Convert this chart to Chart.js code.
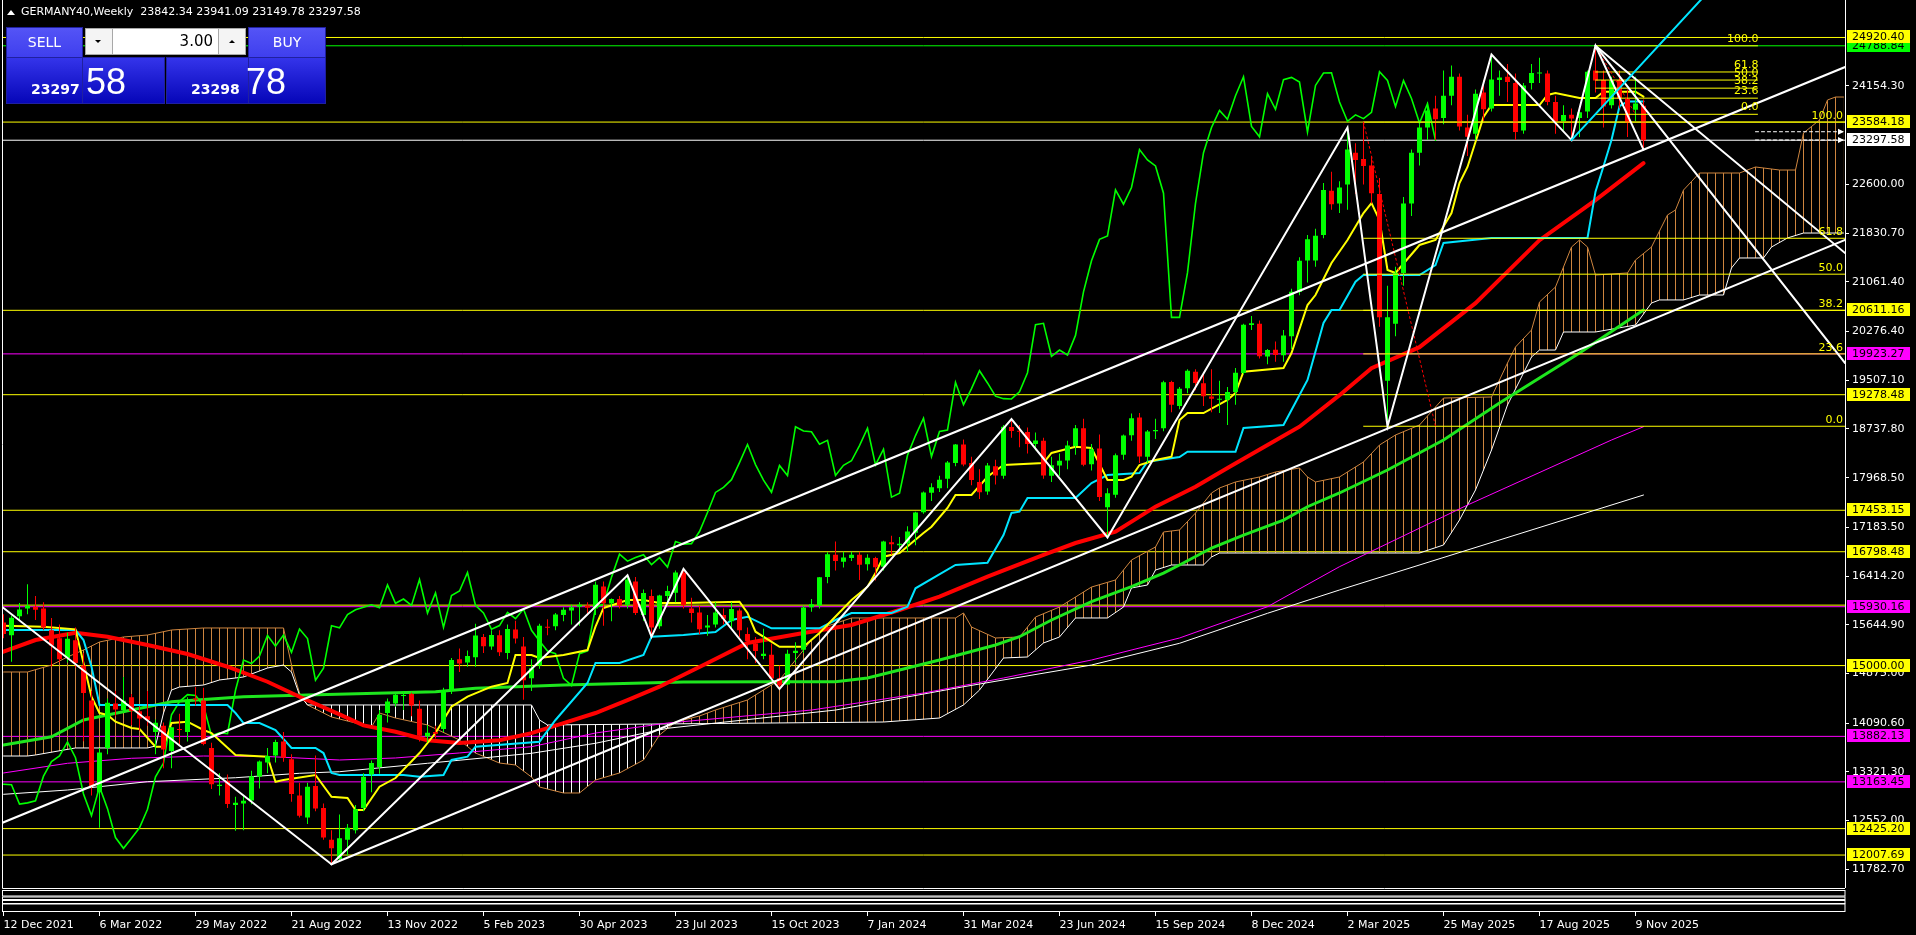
<!DOCTYPE html>
<html><head><meta charset="utf-8">
<script src="https://cdn.jsdelivr.net/npm/chart.js@4.4.1/dist/chart.umd.min.js"></script>
<style>html,body{margin:0;padding:0;background:#000;overflow:hidden}canvas{display:block}</style>
</head><body>
<canvas id="c" width="1916" height="935" style="width:1916px;height:935px"></canvas>
<script>
// ===== DATA (weekly GERMANY40, bar 0 = week of 12 Dec 2021) =====
const xTickBars = [0,12,24,36,48,60,72,84,96,108,120,132,144,156,168,180,192,204];
const xTickLabels = ["12 Dec 2021","6 Mar 2022","29 May 2022","21 Aug 2022","13 Nov 2022","5 Feb 2023","30 Apr 2023","23 Jul 2023","15 Oct 2023","7 Jan 2024","31 Mar 2024","23 Jun 2024","15 Sep 2024","8 Dec 2024","2 Mar 2025","25 May 2025","17 Aug 2025","9 Nov 2025"];
const yTickValues = [24154.30,22600.00,21830.70,21061.40,20276.40,19507.10,18737.80,17968.50,17183.50,16414.20,15644.90,14875.00,14090.60,13321.30,12552.00,11782.70];

const openP = [15680,15480,15780,15900,15930,15900,15560,15430,15120,15400,
15000,14450,13000,13700,14400,14300,14500,14280,14200,13950,
14050,13650,14000,13950,14480,14450,13700,13100,13180,12800,
12820,12870,13250,13470,13580,13800,13520,12950,12600,13100,
12750,12250,11940,12250,12400,12750,13280,13400,14250,14400,
14520,14550,14320,13880,13950,14000,14620,15100,15050,15130,
15450,15300,15480,15200,15570,15300,14800,15000,15600,15620,
15800,15870,15930,15950,15900,16250,15980,16050,15960,16330,
15800,16100,15620,16100,16150,16470,15900,15840,15600,15650,
15800,15700,15870,15500,15350,15150,15170,14800,14700,15200,
15250,15920,15950,16400,16750,16640,16700,16750,16600,16700,
16560,16950,16900,16930,17100,17420,17730,17800,17950,18200,
18490,18200,17900,17750,18150,18000,18770,18700,18690,18500,
18550,18000,18160,18240,18470,18750,18180,18430,17500,17700,
18330,18640,18920,18300,18700,18750,19480,19100,19380,19640,
19460,19250,19200,19200,19320,19620,20380,20400,19880,19990,
19900,20200,20900,21400,21400,21800,22500,22300,22600,23100,
23000,22900,22450,19500,20400,21200,22300,23100,23500,23800,
23650,24000,24300,23500,23400,24050,23800,24250,24300,24200,
23450,24200,24350,24350,23900,23600,23700,23650,23750,24400,
24250,23850,24250,23950,23780,23842.34];
const highP = [15810,15790,15990,16285,16100,16000,15750,15650,15520,15600,
15200,14600,13700,14480,14600,14820,14550,14350,14600,14150,
14100,14030,14240,14500,14660,14650,13780,13300,13280,12930,
12950,13340,13500,13700,13830,13950,13600,13150,13150,13580,
12820,12400,12650,12500,12800,13300,13500,14300,14480,14560,
14600,14570,14450,14060,14050,14650,15120,15270,15240,15660,
15500,15560,15560,15650,15710,15450,15100,15660,15730,15830,
15920,15960,16000,16000,16330,16330,16060,16100,16427,16400,
16200,16200,16120,16260,16500,16528,16070,15950,15800,16000,
15900,16000,15900,15600,15450,15580,15350,15000,15250,15370,
15950,16050,16400,16790,16960,16800,16800,16800,16760,16720,
16970,17050,17030,17200,17430,17750,17880,18000,18230,18500,
18570,18300,18100,18200,18250,18800,18892,18800,18760,18680,
18600,18300,18350,18550,18800,18900,18500,18650,17800,18350,
18650,18980,18990,18720,18900,19500,19500,19400,19680,19680,
19600,19680,19500,19400,19700,20400,20520,20450,20000,20120,
20300,20950,21450,21800,21900,22624,22800,22650,23500,23250,
23584,23050,22700,21000,21300,22400,23150,23550,23900,24000,
24400,24479,24350,23700,24100,24250,24650,24400,24500,24350,
24200,24500,24600,24400,24000,23850,23800,23800,24400,24788.84,
24400,24300,24400,24100,24300,23941.09];
const lowP = [15430,15060,15720,15810,15720,15560,14980,15050,15050,14970,
13807,12950,12439,13600,14200,14250,14060,13970,14050,13600,
13380,13380,13740,13800,14370,13740,13050,12950,12750,12390,
12400,12810,13060,13300,13470,13480,12850,12600,12500,12700,
12250,11862,11900,12000,12350,12700,13000,13290,14100,14350,
14300,14200,13800,13790,13850,13950,14550,14900,14980,14980,
15200,15250,15150,15100,15350,14460,14600,14950,15480,15560,
15700,15650,15630,15800,15800,15630,15700,15900,15900,15800,
15710,15455,15580,15980,16000,15900,15680,15500,15470,15600,
15650,15590,15450,15100,15040,15100,14800,14630,14690,15050,
15200,15850,15900,16300,16500,16550,16650,16350,16500,16345,
16500,16750,16800,16800,16900,17400,17600,17740,17800,18150,
18150,17850,17630,17700,17860,17950,18600,18450,18350,18400,
17950,17900,18000,18100,18330,18150,18080,17600,17025,17650,
18250,18550,18200,18200,18580,18700,19000,19050,19300,19350,
19100,19000,18990,18800,19120,19600,20300,19850,19760,19800,
19800,20000,20850,21050,21300,21750,22200,22150,22200,22450,
22600,22300,20350,18780,20200,21000,22100,22900,23300,23300,
23550,23850,23450,23050,23300,23600,23750,24000,23900,23300,
23400,24100,24200,23850,23400,23450,23300,23350,23650,24050,
23500,23800,23800,23350,23600,23149.78];
const closeP = [15500,15756,15885,15947,15883,15603,15318,15100,15425,15042,
14567,13094,13628,14413,14306,14446,14284,14163,14142,14098,
13674,14027,13982,14462,14460,13762,13126,13118,12813,12832,
12864,13254,13484,13574,13795,13545,12972,12630,13088,12741,
12284,12114,12273,12438,12731,13243,13460,14224,14431,14541,
14529,14370,13893,13940,13924,14610,15087,15033,15150,15476,
15307,15482,15210,15578,15427,14768,14957,15629,15597,15807,
15882,15922,15961,15914,16275,15984,16051,15950,16358,15830,
16148,15603,16106,16178,16470,15952,15832,15574,15632,15840,
15741,15894,15557,15387,15229,15187,14798,14687,15189,15234,
15919,15967,16397,16759,16650,16706,16752,16594,16705,16555,
16961,16918,16926,17117,17419,17735,17815,17936,18206,18492,
18175,17930,17737,18161,18001,18773,18704,18693,18498,18557,
18002,18164,18235,18475,18748,18171,18418,17661,17723,18322,
18633,18907,18302,18699,18720,19474,19121,19374,19657,19464,
19255,19216,19211,19323,19626,20385,20406,19885,19984,19906,
20215,20903,21395,21732,21787,22513,22287,22551,23150,22987,
22892,22461,20500,20500,21206,22300,23100,23499,23767,23630,
24000,24300,23516,23351,24033,23787,24255,24290,24217,23426,
24163,24359,24363,23902,23597,23698,23639,23739,24378,24241,
23831,24240,23958,23569,23876,23297.58];

// Ichimoku lines: [bar, price]
const tenkanPts = [[0,15630],[5,15614],[9,15573],[11,14509],[12,14251],[13,14220],[14,14114],[16,14014],[17,13999],[19,13719],[20,13719],[21,14093],[23,14114],[25,13983],[26,13935],[29,13588],[33,13561],[34,13166],[35,13193],[39,13272],[41,12929],[43,12908],[44,12719],[45,12719],[47,13088],[49,13224],[52,13619],[54,13935],[56,14351],[58,14509],[61,14667],[63,14725],[64,15167],[66,15167],[67,15120],[70,15167],[73,15246],[74,15614],[75,15910],[78,16036],[80,16036],[82,15989],[85,15989],[92,16009],[93,15831],[94,15535],[97,15298],[100,15298],[102,15515],[106,16036],[108,16246],[109,16462],[110,16720],[112,16778],[115,17094],[116,17194],[118,17489],[119,17694],[121,17694],[123,17983],[125,18168],[130,18200],[131,18358],[134,18457],[136,18437],[138,17931],[140,17931],[141,17983],[142,18168],[144,18247],[146,18299],[147,18879],[148,18989],[150,18989],[153,19195],[154,19305],[155,19642],[160,19700],[161,19937],[163,20695],[164,20853],[166,21359],[168,21722],[170,22148],[171,22306],[172,22038],[173,21248],[174,21201],[177,21643],[179,21722],[181,22148],[182,22622],[183,22875],[185,23665],[186,23854],[192,23854],[193,24012],[194,24044],[197,23965],[199,23965],[200,24064],[204,24064],[205,23985]];
const kijunPts = [[0,15562],[9,15562],[10,15404],[11,14983],[12,14378],[28,14378],[29,14251],[30,14093],[32,14093],[34,13983],[36,13699],[39,13699],[40,13619],[41,13304],[42,13272],[50,13272],[52,13245],[55,13272],[56,13509],[58,13561],[59,13719],[67,13798],[69,14141],[73,14725],[74,15041],[77,15041],[80,15167],[81,15456],[85,15483],[89,15530],[91,15720],[93,15772],[96,15589],[102,15589],[104,15720],[106,15831],[111,15831],[113,15930],[114,16221],[119,16589],[123,16625],[125,17063],[126,17410],[127,17431],[128,17647],[134,17647],[136,17884],[138,18010],[142,18042],[143,18220],[147,18295],[148,18378],[154,18378],[155,18752],[160,18800],[162,19274],[163,19511],[165,20411],[166,20616],[167,20616],[169,21063],[170,21169],[177,21169],[179,21327],[180,21675],[186,21754],[198,21754],[199,22485],[200,22886],[201,23300],[202,23835],[203,23910],[205,23910]];
const spanAPts = [[0,14899],[3,14899],[6,15009],[8,15136],[10,15246],[12,15373],[15,15452],[18,15483],[21,15562],[25,15594],[35,15594],[36,15009],[37,14567],[38,14378],[41,14188],[46,14030],[47,14251],[49,14172],[53,14062],[57,13825],[59,13619],[62,13461],[64,13430],[66,13240],[67,13082],[70,12988],[72,12988],[74,13193],[77,13304],[80,13509],[82,13904],[84,14109],[87,14204],[89,14299],[93,14457],[97,14773],[101,15404],[103,15625],[106,15752],[119,15752],[120,15831],[121,15609],[124,15436],[127,15452],[129,15767],[132,15925],[134,16083],[136,16241],[139,16352],[141,16668],[144,16873],[145,17110],[147,17142],[149,17410],[151,17726],[152,17805],[154,17900],[157,17979],[159,18058],[162,18121],[163,17979],[164,17900],[167,17979],[170,18216],[172,18484],[174,18642],[177,18800],[180,19226],[186,19242],[187,19511],[188,19779],[189,20032],[191,20300],[192,20743],[194,20980],[196,21611],[197,21722],[198,21611],[199,21169],[203,21201],[204,21406],[206,21611],[208,22117],[209,22196],[210,22511],[212,22780],[217,22780],[219,22875],[222,22827],[224,22827],[225,23412],[227,23617],[228,23933],[229,23980],[230,23980]];
const spanBPts = [[0,13572],[3,13572],[4,13588],[9,13699],[18,13699],[19,13730],[20,14251],[21,14614],[22,14662],[25,14693],[27,14773],[30,14820],[33,14962],[35,15009],[36,14899],[37,14536],[38,14378],[66,14378],[67,14141],[68,14062],[110,14109],[117,14172],[120,14378],[122,14614],[125,15120],[128,15136],[130,15357],[132,15452],[134,15752],[138,15752],[140,15925],[141,16226],[143,16273],[144,16510],[146,16589],[150,16589],[151,16715],[152,16778],[177,16778],[180,16905],[182,17300],[184,17774],[186,18405],[188,19116],[190,19621],[191,19874],[192,19984],[194,19984],[195,20269],[199,20269],[204,20379],[206,20727],[207,20775],[210,20775],[212,20853],[215,20853],[216,21280],[217,21438],[220,21438],[221,21611],[223,21754],[225,21832],[230,21832]];

// Moving averages: [bar, price]
const redMAPts = [[0,15219],[4,15404],[9,15519],[13,15456],[18,15325],[23,15183],[28,14982],[33,14745],[37,14508],[42,14230],[45,14056],[49,13956],[53,13822],[57,13777],[62,13822],[66,13933],[70,14091],[74,14251],[78,14455],[82,14667],[88,15041],[93,15357],[100,15515],[106,15641],[112,15878],[117,16088],[123,16404],[130,16747],[134,16936],[139,17115],[144,17510],[149,17826],[153,18121],[158,18484],[162,18773],[167,19271],[171,19697],[177,20029],[184,20724],[192,21719],[199,22351],[205,22936]];
const greenMAPts = [[0,13746],[6,13876],[10,14140],[16,14298],[21,14429],[30,14508],[38,14535],[54,14588],[59,14641],[70,14693],[85,14741],[96,14745],[104,14745],[108,14804],[112,14930],[117,15088],[124,15325],[127,15456],[131,15720],[136,16009],[141,16246],[145,16462],[147,16589],[151,16857],[155,17062],[160,17299],[163,17509],[167,17726],[173,18089],[180,18563],[187,19148],[197,19937],[205,20616]];
const magentaMAPts = [[0,13304],[8,13457],[16,13536],[25,13572],[33,13564],[42,13509],[49,13541],[57,13620],[66,13719],[74,13935],[83,14093],[101,14298],[115,14567],[125,14804],[136,15088],[147,15436],[158,15930],[167,16562],[183,17536],[201,18563],[205,18773]];
const whiteMAPts = [[0,12967],[8,13035],[18,13166],[29,13229],[37,13299],[42,13324],[53,13457],[66,13615],[74,13773],[83,14010],[104,14298],[120,14666],[136,15009],[147,15352],[158,15826],[167,16194],[205,17694]];

// Drawn objects: [bar, price]
const zigzagPts = [[41,11862],[78,16427],[81,15455],[85,16528],[97,14630],[126,18892],[138,17025],[168,23500],[173,18780],[186,24650],[196,23300],[199,24788.84],[205,23149.78]];
const trendDownLeft = [[-0.2,15930],[41,11862]];
const channelTop = [[-0.2,12514],[230.2,24454]];
const channelBottom = [[41,11862],[230.2,21722]];
const trendDown1 = [[199,24788.84],[230.2,19779]];
const trendDown2 = [[199,24788.84],[230.2,21516]];
const cyanTrend = [[196,23300],[214,25766]];
const fibAnchor1 = [[170,23584.18],[179,18780]];
const fibAnchor2 = [[199,24788.84],[204,23707]];
const fib1Start = 170, fib2Start = 199, fib2End = 219.25;
const fibNames = ["100.0","61.8","50.0","38.2","23.6","0.0"];
const fib1Levels = [23584.18,21749,21182,20611.16,19923.27,18780];
const fib2Levels = [24788.84,24375.6,24248,24120,23962,23707];
const hLevels = [24920.40,24788.84,23584.18,23297.58,20611.16,19923.27,19278.48,17453.15,16798.48,15955,15930.16,15000.00,13882.13,13163.45,12425.20,12007.69];
const priceLabels = [24788.84,24920.40,23584.18,23297.58,20611.16,19923.27,19278.48,17453.15,16798.48,15930.16,15000.00,13882.13,13163.45,12425.20,12007.69];
const askLines = [23432,23301];
const header = {symbol:"GERMANY40,Weekly", o:"23842.34", h:"23941.09", l:"23149.78", c:"23297.58"};
const bid = ["23297","58"], ask = ["23298","78"], lots = "3.00";

// ===== STYLES =====
const Y = '#FFFF00', M = '#FF00FF', G = '#00FF00', W = '#FFFFFF';
const hColors = [Y,G,Y,W,Y,M,Y,Y,Y,Y,M,Y,M,M,Y,Y];
const labelBg = {"24788.84":G,"24920.40":Y,"23584.18":Y,"23297.58":W,"20611.16":Y,"19923.27":M,"19278.48":Y,"17453.15":Y,"16798.48":Y,"15930.16":M,"15000.00":Y,"13882.13":M,"13163.45":M,"12425.20":Y,"12007.69":Y};
const BULL = '#00FF00', BEAR = '#FF0000', CLOUD = '#CD853F';
const FONT = '"DejaVu Sans", sans-serif';

function stripe(color){
  const c = document.createElement('canvas'); c.width = 8; c.height = 1;
  const x = c.getContext('2d'); x.fillStyle = color; x.fillRect(3,0,1,1);
  return x.createPattern(c, 'repeat');
}
const pOrange = stripe(CLOUD), pWhite = stripe('#FFFFFF');

const pts = a => a.map(([x,y]) => ({x, y}));
function lineDS(data, color, width, order, extra){
  return Object.assign({type:'line', data, borderColor:color, borderWidth:width, pointRadius:0, pointHoverRadius:0,
    fill:false, tension:0, order, spanGaps:true, borderCapStyle:'round'}, extra || {});
}
const idx = closeP.map((_, i) => i);
const candleColors = idx.map(i => closeP[i] >= openP[i] ? BULL : BEAR);

const datasets = [];
hLevels.forEach((p, k) => datasets.push(lineDS([{x:-1,y:p},{x:232,y:p}], hColors[k], 1, 200 + k)));
datasets.push(lineDS(pts(spanAPts), CLOUD, 1, 191, {fill:{target:'+1', above:pOrange, below:pWhite}}));
datasets.push(lineDS(pts(spanBPts), W, 1, 190));
datasets.push(lineDS(pts(whiteMAPts), W, 1, 184));
datasets.push(lineDS(pts(magentaMAPts), M, 1, 183));
datasets.push(lineDS(pts(greenMAPts), '#1EE61E', 3, 182));
datasets.push(lineDS(pts(redMAPts), '#FF0000', 4, 181));
datasets.push(lineDS(closeP.slice(26).map((c, k) => ({x:k, y:c})), G, 1.6, 172));
datasets.push(lineDS(pts(kijunPts), '#00E5FF', 2, 171));
datasets.push(lineDS(pts(tenkanPts), Y, 2, 170));
datasets.push({type:'bar', data: idx.map(i => ({x:i, y:[lowP[i], highP[i]]})), backgroundColor: candleColors,
  barThickness:1, grouped:false, borderWidth:0, inflateAmount:0, order:151});
datasets.push({type:'bar', data: idx.map(i => ({x:i, y:[openP[i], closeP[i]]})), backgroundColor: candleColors,
  barThickness:5, grouped:false, borderWidth:0, inflateAmount:0, minBarLength:1, order:150});
fib1Levels.forEach((p, k) => datasets.push(lineDS([{x:fib1Start,y:p},{x:232,y:p}], Y, 1, 140)));
fib2Levels.forEach((p, k) => datasets.push(lineDS([{x:fib2Start,y:p},{x:fib2End,y:p}], Y, 1, 140)));
datasets.push(lineDS(pts(fibAnchor1), '#FF0000', 1, 131, {borderDash:[2,3]}));
datasets.push(lineDS(pts(fibAnchor2), '#FF0000', 1, 131, {borderDash:[2,3]}));
askLines.forEach(p => datasets.push(lineDS([{x:219,y:p},{x:230.1,y:p}], W, 1, 130, {borderDash:[3,3]})));
[trendDownLeft, channelTop, channelBottom, trendDown1, trendDown2, zigzagPts].forEach(a => datasets.push(lineDS(pts(a), W, 2, 120)));
datasets.push(lineDS(pts(cyanTrend), '#00E5FF', 2, 119));

// ===== PLUGIN: background, frame, labels, panel =====
const deco = {
  id:'deco',
  beforeDraw(chart){
    const c = chart.ctx; c.save(); c.fillStyle = '#000'; c.fillRect(0,0,chart.width,chart.height); c.restore();
  },
  afterDraw(chart){
    const c = chart.ctx, ys = chart.scales.y, xs = chart.scales.x, a = chart.chartArea;
    c.save();
    c.strokeStyle = '#fff'; c.lineWidth = 1;
    c.beginPath(); c.moveTo(2.5, 0); c.lineTo(2.5, 888.5); c.lineTo(a.right, 888.5); c.stroke();
    [[890.5,5.5],[897,2.5],[900.5,3],[904,7.5]].forEach(([y,h]) => c.strokeRect(2.5, y, a.right - 2.5, h));
    xTickBars.forEach(b => { const x = Math.round(xs.getPixelForValue(b)) - 0.5; c.beginPath(); c.moveTo(x, 912); c.lineTo(x, 916); c.stroke(); });
    c.font = '11px ' + FONT; c.fillStyle = Y; c.textBaseline = 'bottom';
    c.textAlign = 'right';
    fib1Levels.forEach((p, k) => c.fillText(fibNames[k], a.right - 2, ys.getPixelForValue(p) - 0.5));
    fib2Levels.forEach((p, k) => c.fillText(fibNames[k], xs.getPixelForValue(fib2End) + 1, ys.getPixelForValue(p) - 1.5));
    c.textAlign = 'left'; c.textBaseline = 'middle';
    priceLabels.forEach(p => {
      const t = p.toFixed(2), y = Math.round(ys.getPixelForValue(p));
      c.fillStyle = labelBg[t]; c.fillRect(1847, y - 7, 63, 13);
      c.fillStyle = '#000'; c.fillText(t, 1852, y);
    });
    c.fillStyle = '#fff';
    askLines.forEach(p => { const y = ys.getPixelForValue(p); c.beginPath(); c.moveTo(1838, y - 3); c.lineTo(1844, y); c.lineTo(1838, y + 3); c.fill(); });
    c.fillStyle = '#fff'; c.beginPath(); c.moveTo(7, 15); c.lineTo(15, 15); c.lineTo(11, 10); c.closePath(); c.fill();
    c.font = '11px ' + FONT; c.textBaseline = 'middle';
    c.fillText(header.symbol + '  ' + [header.o, header.h, header.l, header.c].join(' '), 21, 12.5);
    drawPanel(c);
    c.restore();
  }
};

function drawPanel(c){
  const g1 = c.createLinearGradient(0, 28, 0, 57);
  g1.addColorStop(0, '#5454f6'); g1.addColorStop(1, '#3f3fee');
  const g2 = c.createLinearGradient(0, 58, 0, 103);
  g2.addColorStop(0, '#3434ea'); g2.addColorStop(1, '#0606b8');
  c.fillStyle = g1; c.fillRect(7, 28, 75, 30); c.fillRect(249, 28, 76, 30);
  c.fillStyle = g2; c.fillRect(7, 58, 157, 45); c.fillRect(167, 58, 158, 45);
  c.strokeStyle = '#7c7cff'; c.lineWidth = 1;
  c.beginPath(); c.moveTo(10, 57.5); c.lineTo(79, 57.5); c.moveTo(252, 57.5); c.lineTo(322, 57.5); c.stroke();
  c.strokeStyle = '#2020a0'; c.strokeRect(6.5, 27.5, 76, 76); c.strokeRect(248.5, 27.5, 77, 76);
  c.strokeRect(6.5, 57.5, 158, 46); c.strokeRect(166.5, 57.5, 159, 46);
  c.fillStyle = '#f4f4f4'; c.fillRect(85, 28, 161, 27);
  c.fillStyle = '#ffffff'; c.fillRect(113, 29, 105, 25);
  c.strokeStyle = '#a8a8a8'; c.strokeRect(85.5, 28.5, 160, 26);
  c.beginPath(); c.moveTo(112.5, 28); c.lineTo(112.5, 55); c.moveTo(218.5, 28); c.lineTo(218.5, 55); c.stroke();
  c.fillStyle = '#000';
  c.beginPath(); c.moveTo(95, 40); c.lineTo(101, 40); c.lineTo(98, 43); c.closePath(); c.fill();
  c.beginPath(); c.moveTo(229, 43); c.lineTo(235, 43); c.lineTo(232, 40); c.closePath(); c.fill();
  c.font = '15px ' + FONT; c.textAlign = 'right'; c.textBaseline = 'middle'; c.fillText(lots, 213, 42);
  c.fillStyle = '#fff'; c.textAlign = 'center'; c.font = '14px ' + FONT;
  c.fillText('SELL', 44.5, 43); c.fillText('BUY', 287, 43);
  c.textAlign = 'left'; c.textBaseline = 'alphabetic';
  c.font = 'bold 14px ' + FONT; c.fillText(bid[0], 31, 94); c.fillText(ask[0], 191, 94);
  c.font = '36px "Liberation Sans", sans-serif'; c.fillText(bid[1], 86, 94); c.fillText(ask[1], 246, 94);
}

Chart.defaults.font.family = FONT;
Chart.defaults.font.size = 11;
new Chart(document.getElementById('c'), {
  type:'bar',
  data:{datasets},
  options:{
    responsive:false, animation:false, devicePixelRatio:1, events:[],
    layout:{padding:{left:2, right:0, top:0, bottom:0}},
    plugins:{legend:{display:false}, tooltip:{enabled:false}},
    scales:{
      x:{type:'linear', position:'bottom', min:-0.1875, max:230.1875, offset:false,
        grid:{display:false}, border:{display:false},
        afterBuildTicks: s => { s.ticks = xTickBars.map(v => ({value:v})); },
        afterFit: s => { s.height = 47.5; s.paddingLeft = 0; s.paddingRight = 0; },
        ticks:{autoSkip:false, maxRotation:0, align:'start', padding:23, color:'#fff',
          callback:(v, i) => xTickLabels[i]}},
      y:{type:'linear', position:'right', min:11495.2, max:25512.4,
        grid:{display:true, drawOnChartArea:false, drawTicks:true, tickLength:4, color:'#fff'},
        border:{display:true, color:'#fff'},
        afterBuildTicks: s => { s.ticks = yTickValues.map(v => ({value:v})); },
        afterFit: s => { s.width = 71; s.paddingTop = 0; s.paddingBottom = 0; },
        ticks:{autoSkip:false, padding:3, color:'#fff', callback: v => Number(v).toFixed(2)}}
    }
  },
  plugins:[deco]
});
</script></body></html>
